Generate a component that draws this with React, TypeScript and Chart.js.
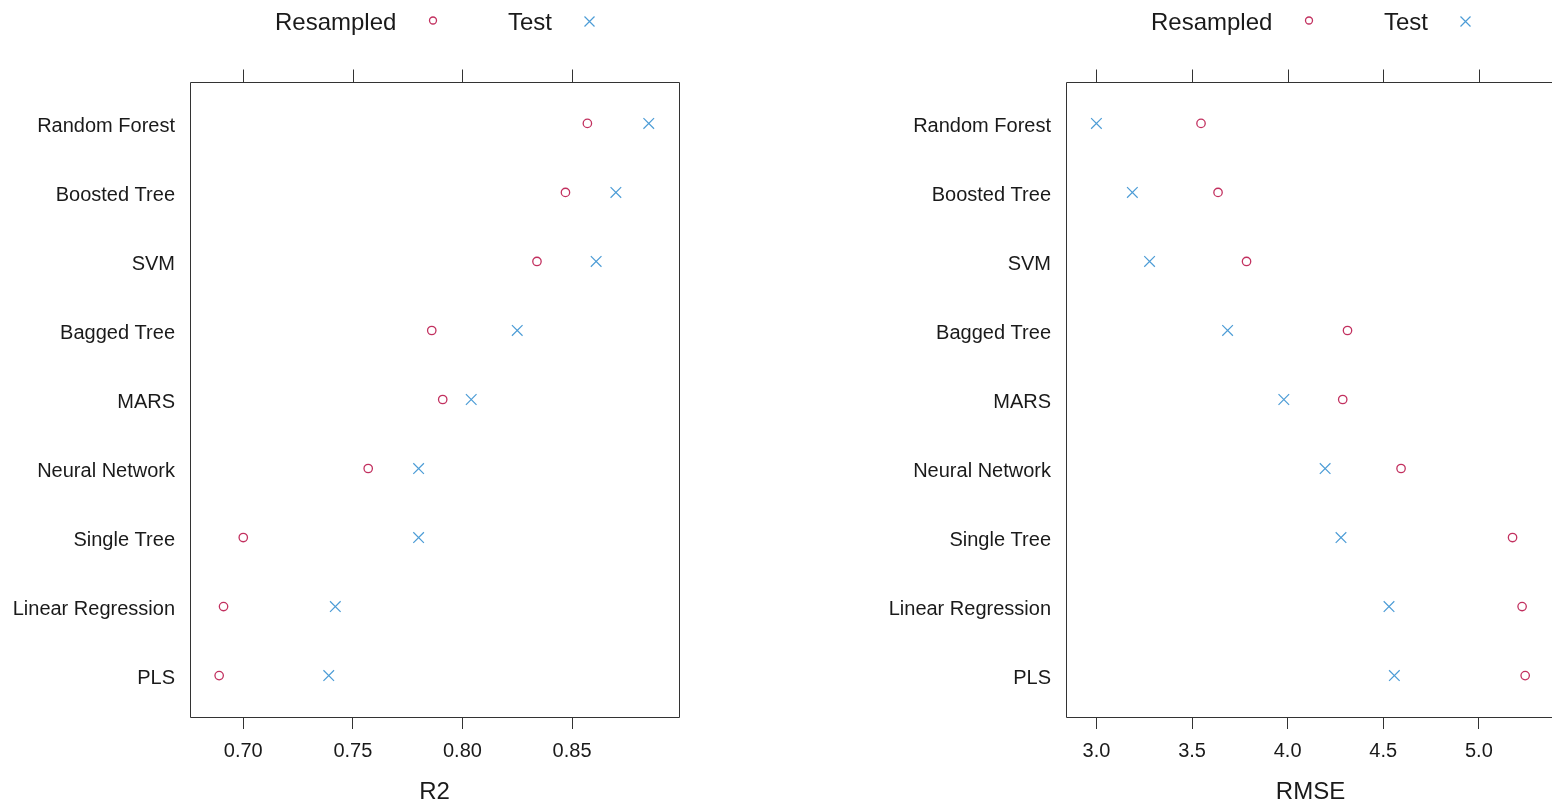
import React, { useEffect, useRef } from "react";
import { Chart, registerables } from "chart.js";

Chart.register(...registerables);

// ---- data ----
const MODELS = [
  "Random Forest",
  "Boosted Tree",
  "SVM",
  "Bagged Tree",
  "MARS",
  "Neural Network",
  "Single Tree",
  "Linear Regression",
  "PLS",
];

const R2_RESAMPLED = [0.857, 0.847, 0.834, 0.786, 0.791, 0.757, 0.7, 0.691, 0.689];
const R2_TEST = [0.885, 0.870, 0.861, 0.825, 0.804, 0.780, 0.780, 0.742, 0.739];
const R2_TICKS = [0.7, 0.75, 0.8, 0.85];
const R2_TICK_LABELS = ["0.70", "0.75", "0.80", "0.85"];

const RMSE_RESAMPLED = [3.547, 3.636, 3.785, 4.313, 4.288, 4.593, 5.176, 5.226, 5.242];
const RMSE_TEST = [3.0, 3.188, 3.278, 3.686, 3.98, 4.196, 4.279, 4.53, 4.558];
const RMSE_TICKS = [3.0, 3.5, 4.0, 4.5, 5.0];
const RMSE_TICK_LABELS = ["3.0", "3.5", "4.0", "4.5", "5.0"];

const LEGEND_LABELS = ["Resampled", "Test"];

// ---- style ----
const FONT = '"Liberation Sans", Arial, Helvetica, sans-serif';
const RES_COLOR = "#C2305F";
const TEST_COLOR = "#4C9CD6";
const LINE_COLOR = "#333333";
const TEXT_COLOR = "#1a1a1a";
const CANVAS_W = 876;
const CANVAS_H = 807;

type Panel = {
  resampled: number[];
  test: number[];
  min: number;
  max: number;
  ticks: number[];
  tickLabels: string[];
  title: string;
};

const framePlugin = {
  id: "frame",
  afterDraw(chart: any) {
    const { ctx, chartArea: a } = chart;
    const xs = chart.scales.x;
    ctx.save();
    ctx.strokeStyle = LINE_COLOR;
    ctx.lineWidth = 1;
    const l = Math.round(a.left) + 0.5;
    const t = Math.round(a.top) + 0.5;
    const r = Math.round(a.right) + 0.5;
    const b = Math.round(a.bottom) + 0.5;
    ctx.beginPath();
    ctx.rect(l, t, r - l, b - t);
    // top tick marks
    xs.ticks.forEach((tk: any) => {
      const px = Math.round(xs.getPixelForValue(tk.value)) + 0.5;
      ctx.moveTo(px, t);
      ctx.lineTo(px, t - 13);
    });
    ctx.stroke();

    // legend (text then symbol)
    const cx = (a.left + a.right) / 2;
    const ly = 30;
    ctx.font = `24px ${FONT}`;
    ctx.fillStyle = TEXT_COLOR;
    ctx.textAlign = "left";
    ctx.textBaseline = "alphabetic";
    ctx.fillText(LEGEND_LABELS[0], cx - 159.5, ly);
    ctx.fillText(LEGEND_LABELS[1], cx + 73.5, ly);
    // circle
    ctx.strokeStyle = RES_COLOR;
    ctx.lineWidth = 1.3;
    ctx.beginPath();
    ctx.arc(cx - 1.5, 20.5, 3.5, 0, Math.PI * 2);
    ctx.stroke();
    // cross
    ctx.strokeStyle = TEST_COLOR;
    ctx.lineWidth = 1.2;
    const xc = cx + 155;
    const yc = 21.5;
    const d = 5;
    ctx.beginPath();
    ctx.moveTo(xc - d, yc - d);
    ctx.lineTo(xc + d, yc + d);
    ctx.moveTo(xc + d, yc - d);
    ctx.lineTo(xc - d, yc + d);
    ctx.stroke();
    ctx.restore();
  },
};

function makeConfig(p: Panel): any {
  const n = MODELS.length;
  return {
    type: "scatter",
    data: {
      datasets: [
        {
          label: LEGEND_LABELS[0],
          data: p.resampled.map((v, i) => ({ x: v, y: n - i })),
          pointStyle: "circle",
          pointRadius: 4.2,
          borderWidth: 1.3,
          borderColor: RES_COLOR,
          backgroundColor: "rgba(0,0,0,0)",
        },
        {
          label: LEGEND_LABELS[1],
          data: p.test.map((v, i) => ({ x: v, y: n - i })),
          pointStyle: "crossRot",
          pointRadius: 7.5,
          borderWidth: 1.2,
          borderColor: TEST_COLOR,
          backgroundColor: TEST_COLOR,
        },
      ],
    },
    options: {
      animation: false,
      responsive: false,
      maintainAspectRatio: false,
      layout: { padding: { top: 82, left: 0, right: 197, bottom: 0 } },
      plugins: {
        legend: { display: false },
        tooltip: { enabled: false },
        title: { display: false },
      },
      scales: {
        x: {
          type: "linear",
          position: "bottom",
          min: p.min,
          max: p.max,
          afterBuildTicks: (s: any) => {
            s.ticks = p.ticks.map((v) => ({ value: v }));
          },
          afterFit: (s: any) => {
            s.height = 90;
          },
          ticks: {
            autoSkip: false,
            maxRotation: 0,
            padding: 10,
            color: TEXT_COLOR,
            font: { family: FONT, size: 20 },
            callback: (_v: any, i: number) => p.tickLabels[i],
          },
          grid: {
            display: true,
            drawOnChartArea: false,
            drawTicks: true,
            tickLength: 12,
            color: LINE_COLOR,
            lineWidth: 1,
          },
          border: { display: false },
          title: {
            display: true,
            text: p.title,
            color: TEXT_COLOR,
            font: { family: FONT, size: 24 },
            padding: { top: 0, bottom: 0 },
          },
        },
        y: {
          type: "linear",
          position: "left",
          min: 0.4,
          max: n + 0.6,
          afterBuildTicks: (s: any) => {
            s.ticks = MODELS.map((_m, i) => ({ value: n - i }));
          },
          afterFit: (s: any) => {
            s.width = 190;
          },
          ticks: {
            autoSkip: false,
            padding: 15,
            labelOffset: 3,
            color: TEXT_COLOR,
            font: { family: FONT, size: 20 },
            callback: (v: any) => MODELS[n - Math.round(v)],
          },
          grid: { display: false, drawTicks: false, tickLength: 0 },
          border: { display: false },
        },
      },
    },
    plugins: [framePlugin],
  };
}

function PanelChart({ panel, left }: { panel: Panel; left: number }) {
  const ref = useRef<HTMLCanvasElement | null>(null);
  useEffect(() => {
    if (!ref.current) return;
    const chart = new Chart(ref.current, makeConfig(panel));
    return () => chart.destroy();
  }, [panel]);
  return (
    <canvas
      ref={ref}
      width={CANVAS_W}
      height={CANVAS_H}
      style={{
        position: "absolute",
        left,
        top: 0,
        width: CANVAS_W,
        height: CANVAS_H,
        display: "block",
      }}
    />
  );
}

const R2_PANEL: Panel = {
  resampled: R2_RESAMPLED,
  test: R2_TEST,
  min: 0.6757,
  max: 0.8988,
  ticks: R2_TICKS,
  tickLabels: R2_TICK_LABELS,
  title: "R2",
};

const RMSE_PANEL: Panel = {
  resampled: RMSE_RESAMPLED,
  test: RMSE_TEST,
  min: 2.841,
  max: 5.398,
  ticks: RMSE_TICKS,
  tickLabels: RMSE_TICK_LABELS,
  title: "RMSE",
};

export default function App() {
  return (
    <div
      style={{
        position: "fixed",
        left: 0,
        top: 0,
        width: 1552,
        height: 807,
        overflow: "hidden",
        background: "#fff",
      }}
    >
      <PanelChart panel={R2_PANEL} left={0} />
      <PanelChart panel={RMSE_PANEL} left={876} />
    </div>
  );
}
